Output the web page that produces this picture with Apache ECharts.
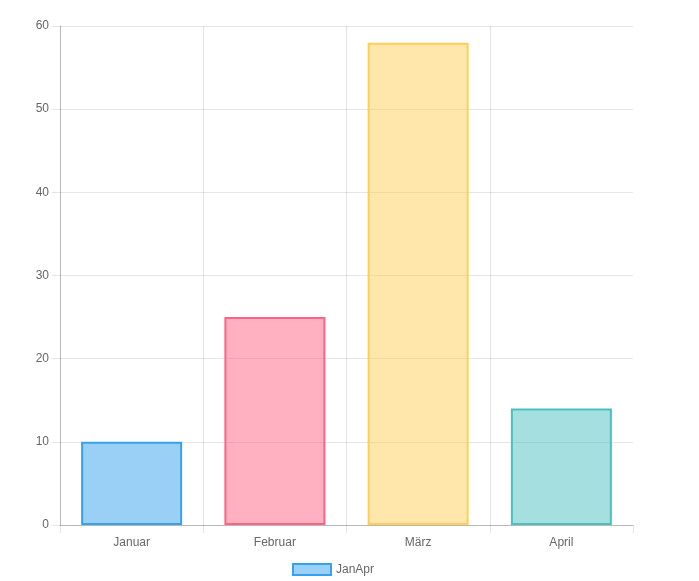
<!DOCTYPE html>
<html>
<head>
<meta charset="utf-8">
<script src="https://cdn.jsdelivr.net/npm/echarts@6/dist/echarts.min.js"></script>
<style>html,body{margin:0;padding:0;background:#fff;}#c{width:699px;height:581px;}</style>
</head>
<body>
<div id="c"></div>
<script>
const categories = ['Januar', 'Februar', 'März', 'April'];
const values = [10, 25, 58, 14];
const seriesName = 'JanApr';
const fills = ['rgba(54,162,235,0.5)', 'rgba(255,99,132,0.5)', 'rgba(255,206,86,0.5)', 'rgba(75,192,192,0.5)'];
const borders = ['rgb(54,162,235)', 'rgb(255,99,132)', 'rgb(255,206,86)', 'rgb(75,192,192)'];

const chart = echarts.init(document.getElementById('c'), null, {renderer: 'canvas'});
const font = {fontFamily: 'Arial, "Liberation Sans", Helvetica, sans-serif', fontSize: 12, color: '#666'};
const gridColor = 'rgba(0,0,0,0.1)';
const vLineColors = categories.map(() => gridColor).concat(['rgba(0,0,0,0)']);
chart.setOption({
  animation: false,
  grid: {left: 60, right: 66, top: 26, bottom: 56, containLabel: false},
  legend: {
    data: [{name: seriesName, itemStyle: {color: fills[0], borderColor: borders[0], borderWidth: 2}}],
    top: 563, left: 292, padding: 0, itemWidth: 38, itemHeight: 11, itemGap: 10,
    textStyle: font, icon: 'rect'
  },
  xAxis: {
    type: 'category', data: categories, boundaryGap: true,
    axisLine: {show: true, lineStyle: {color: 'rgba(0,0,0,0.2)'}},
    axisTick: {show: true, length: 8, interval: 0, lineStyle: {color: gridColor}},
    splitLine: {show: true, interval: 0, lineStyle: {color: vLineColors}},
    axisLabel: Object.assign({margin: 12}, font)
  },
  yAxis: {
    type: 'value', min: 0, max: 60, interval: 10,
    axisLine: {show: true, lineStyle: {color: 'rgba(0,0,0,0.2)'}},
    axisTick: {show: true, length: 8, lineStyle: {color: gridColor}},
    splitLine: {show: true, lineStyle: {color: gridColor}},
    axisLabel: Object.assign({margin: 11}, font)
  },
  series: [{
    name: seriesName, type: 'bar', barWidth: 101,
    itemStyle: {color: fills[0], borderColor: borders[0], borderWidth: 2},
    data: values.map((v, i) => ({value: v, itemStyle: {color: fills[i], borderColor: borders[i], borderWidth: 2}}))
  }]
});
</script>
</body>
</html>
